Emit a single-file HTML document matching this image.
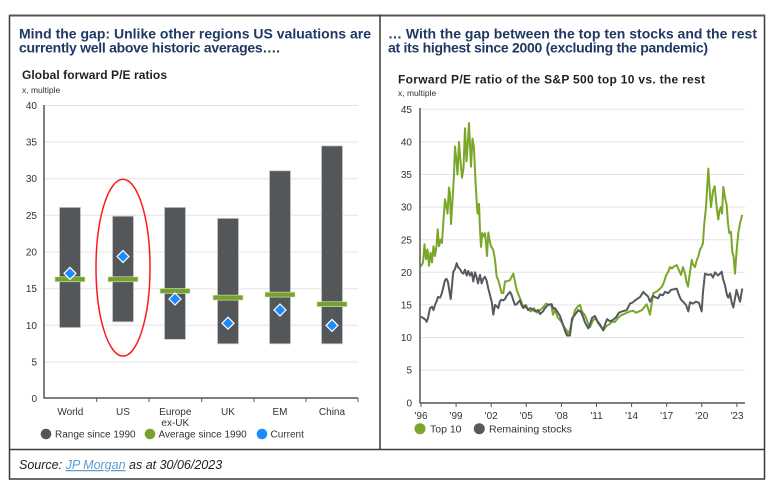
<!DOCTYPE html>
<html><head><meta charset="utf-8"><style>
html,body{margin:0;padding:0;background:#fff;}
svg{display:block;font-family:"Liberation Sans",Arial,sans-serif;}
</style></head><body>
<svg width="770" height="489" viewBox="0 0 770 489" xmlns="http://www.w3.org/2000/svg">
<rect width="770" height="489" fill="#fff"/>
<!-- frame -->
<rect x="9.5" y="15.5" width="755" height="463.5" fill="none" stroke="#3a3a3a" stroke-width="1.5"/>
<line x1="9" y1="15.5" x2="765" y2="15.5" stroke="#555" stroke-width="2"/>
<line x1="380" y1="15" x2="380" y2="449" stroke="#3a3a3a" stroke-width="1.5"/>
<line x1="9" y1="449.5" x2="765" y2="449.5" stroke="#3a3a3a" stroke-width="1.5"/>

<!-- titles -->
<g fill="#1f3864" font-weight="bold" font-size="14">
<text x="19" y="38.5" textLength="352" lengthAdjust="spacing">Mind the gap: Unlike other regions US valuations are</text>
<text x="19" y="52.5" textLength="261" lengthAdjust="spacing">currently well above historic averages….</text>
<text x="388" y="38.5" textLength="369" lengthAdjust="spacing">… With the gap between the top ten stocks and the rest</text>
<text x="388" y="52.5" textLength="320" lengthAdjust="spacing">at its highest since 2000 (excluding the pandemic)</text>
</g>

<!-- LEFT CHART -->
<text x="22" y="79" font-size="12" font-weight="bold" fill="#222" textLength="145" lengthAdjust="spacing">Global forward P/E ratios</text>
<text x="22" y="93" font-size="8.5" fill="#333">x, multiple</text>
<g stroke="#e4e4e4" stroke-width="1">
<line x1="44" y1="105.5" x2="358" y2="105.5"/>
<line x1="44" y1="142" x2="358" y2="142"/>
<line x1="44" y1="178.7" x2="358" y2="178.7"/>
<line x1="44" y1="215.3" x2="358" y2="215.3"/>
<line x1="44" y1="252" x2="358" y2="252"/>
<line x1="44" y1="288.7" x2="358" y2="288.7"/>
<line x1="44" y1="325.3" x2="358" y2="325.3"/>
<line x1="44" y1="362" x2="358" y2="362"/>
</g>
<g font-size="10" fill="#333" text-anchor="end">
<text x="37" y="109">40</text><text x="37" y="145.5">35</text><text x="37" y="182">30</text>
<text x="37" y="219">25</text><text x="37" y="255.5">20</text><text x="37" y="292">15</text>
<text x="37" y="329">10</text><text x="37" y="365.5">5</text><text x="37" y="402">0</text>
</g>
<!-- bars -->
<g fill="#54575a" stroke="#c8c8c8" stroke-width="0.8">
<rect x="59.5" y="207.4" width="21" height="120.2"/>
<rect x="112.5" y="216.2" width="21" height="105.6"/>
<rect x="164.5" y="207.4" width="21" height="132"/>
<rect x="217.5" y="218.4" width="21" height="125.4"/>
<rect x="269.5" y="170.8" width="21" height="173"/>
<rect x="321.5" y="145.9" width="21" height="197.9"/>
</g>
<!-- averages -->
<g fill="#78a22f" stroke="#d9e7c0" stroke-width="0.6">
<rect x="55" y="276.8" width="30" height="5"/>
<rect x="108" y="276.8" width="30" height="5"/>
<rect x="160" y="288.5" width="30" height="5"/>
<rect x="213" y="295.1" width="30" height="5"/>
<rect x="265" y="292.1" width="30" height="5"/>
<rect x="317" y="301.7" width="30" height="5"/>
</g>
<!-- current diamonds -->
<g fill="#1a8cff" stroke="#fff" stroke-width="1.2">
<path d="M70,267.4 L76,273.4 L70,279.4 L64,273.4Z"/>
<path d="M123,250.5 L129,256.5 L123,262.5 L117,256.5Z"/>
<path d="M175,293 L181,299 L175,305 L169,299Z"/>
<path d="M228,317.2 L234,323.2 L228,329.2 L222,323.2Z"/>
<path d="M280,304 L286,310 L280,316 L274,310Z"/>
<path d="M332,319.4 L338,325.4 L332,331.4 L326,325.4Z"/>
</g>
<!-- red ellipse -->
<ellipse cx="123" cy="267.7" rx="27" ry="88.4" fill="none" stroke="#ff1a1a" stroke-width="1.5"/>
<!-- axes -->
<line x1="44" y1="105" x2="44" y2="398.5" stroke="#555" stroke-width="1.5"/>
<line x1="44" y1="398" x2="358" y2="398" stroke="#555" stroke-width="1.5"/>
<g stroke="#555" stroke-width="1">
<line x1="96.7" y1="398" x2="96.7" y2="402"/><line x1="149" y1="398" x2="149" y2="402"/>
<line x1="201.7" y1="398" x2="201.7" y2="402"/><line x1="254" y1="398" x2="254" y2="402"/>
<line x1="306" y1="398" x2="306" y2="402"/><line x1="358" y1="398" x2="358" y2="402"/>
</g>
<g font-size="10" fill="#333" text-anchor="middle">
<text x="70.3" y="415">World</text><text x="123" y="415">US</text>
<text x="175.3" y="415">Europe</text><text x="175.3" y="426">ex-UK</text>
<text x="228" y="415">UK</text><text x="280" y="415">EM</text><text x="332" y="415">China</text>
</g>
<g font-size="10" fill="#333">
<circle cx="46" cy="434" r="5.3" fill="#54575a"/><text x="55" y="437.5">Range since 1990</text>
<circle cx="150" cy="434" r="5.3" fill="#78a22f"/><text x="158.5" y="437.5">Average since 1990</text>
<circle cx="262" cy="434" r="5.3" fill="#1a8cff"/><text x="270.5" y="437.5">Current</text>
</g>

<!-- RIGHT CHART -->
<text x="398" y="83.3" font-size="12" font-weight="bold" fill="#222" textLength="307" lengthAdjust="spacing">Forward P/E ratio of the S&amp;P 500 top 10 vs. the rest</text>
<text x="398" y="96" font-size="8.5" fill="#333">x, multiple</text>
<g stroke="#e4e4e4" stroke-width="1">
<line x1="420" y1="109.3" x2="745" y2="109.3"/>
<line x1="420" y1="141.9" x2="745" y2="141.9"/>
<line x1="420" y1="174.5" x2="745" y2="174.5"/>
<line x1="420" y1="207.1" x2="745" y2="207.1"/>
<line x1="420" y1="239.7" x2="745" y2="239.7"/>
<line x1="420" y1="272.3" x2="745" y2="272.3"/>
<line x1="420" y1="304.9" x2="745" y2="304.9"/>
<line x1="420" y1="337.5" x2="745" y2="337.5"/>
<line x1="420" y1="370.1" x2="745" y2="370.1"/>
</g>
<g font-size="10" fill="#333" text-anchor="end">
<text x="412" y="113">45</text><text x="412" y="145.5">40</text><text x="412" y="178">35</text>
<text x="412" y="210.7">30</text><text x="412" y="243.3">25</text><text x="412" y="276">20</text>
<text x="412" y="308.5">15</text><text x="412" y="341">10</text><text x="412" y="373.7">5</text>
<text x="412" y="406.3">0</text>
</g>
<g transform="translate(0,402.7) scale(1,-6.52)" fill="none" stroke-linejoin="round">
<polyline vector-effect="non-scaling-stroke" stroke="#7aa62a" stroke-width="2" points="421,20.9 423,21.5 424.5,24.3 426,22 427.5,23.5 429,21 430.5,23 432,21.5 433.5,24 435,22.5 436.5,24 437.7,26.6 439,24 440.5,25 442,24.5 443.5,28 445,31.2 446.5,30 447.5,29 449,33 450,32 451,27.4 452.5,31 454,35 455,39.3 456.5,37 457.5,35 459,40 460.5,37 462,34.5 463.5,36 465,42.1 466.5,37 467.5,39 469,42.9 470.5,38 471,36.2 472.5,40.5 474,39 475.5,34 477,30 477.7,29 479,30.5 480,26.5 481,23.9 482.3,26 484,25.5 485,26 486,24.5 487,22.5 488.3,26.1 489.5,25 491,24 493.3,23.4 495,21.9 496.7,19.3 498.3,18.8 500,17.8 501.7,16.8 503.3,16.8 505,18.6 506.7,18.6 510,18.8 513.3,19.8 516.7,17.3 520,16 522,15.2 524,14.7 526,15 528,14.3 531,14 534,14.5 537,13.8 540,14.2 543,14.6 546,15.2 549,15 551,15.1 553,13.5 555,14.2 558,13 561,12.5 564,11.6 566.7,11.1 568,10.6 570,11.2 572,12.5 575,14.2 578,14.8 580,15 582,14 585,13.4 588,12.2 590,11.6 593,12.6 596,13 598,12.2 600,11.8 603.3,11.1 606,11.7 609,12 612,12.4 615,12.4 618,13 621,13.4 624,13.6 627,13.8 630,14 633,14.1 636,13.8 639,14 642,14.2 645,14.8 646.7,15.1 648,14.5 650,13.5 651.5,15 653.3,16.8 656,17 658,17.2 660,17.5 662,17.8 664,18.5 666,19.5 668.3,20.1 670,20.8 672,20.6 674,20.9 676.7,21.1 679,20.3 681,19.6 683,20.8 685,19.8 686.5,18.5 688,17.8 689.5,19.5 691.7,21.9 693,21.2 695,20.8 697,22 698.3,22.4 700,23.5 701.7,23.9 703,24.5 704,27 706,30 708.3,35.9 710,32 711,30 713,32.5 714.7,33.2 716,31 717,29.6 718.3,28.1 719.5,29.5 721,30 722,29 723.3,33.1 725,31.5 726.7,30.3 728,27.5 729.3,26 731,26.2 732.3,23.1 733.5,22.5 735,19.8 736,22 737,24 738.3,26 740,27.5 742.3,28.8"/>
<polyline vector-effect="non-scaling-stroke" stroke="#555a5f" stroke-width="2" points="421,13.2 423,13 425,12.8 426.7,12.4 428,13 430,14.5 432,14.7 433.5,14.2 435,15 436.7,15.6 438,16.2 440,16.1 441.7,16.7 443,17.5 445,18.8 446.5,19 448,18.5 450,16.5 450.7,15.9 452,18 453.3,20.1 455,20.5 456.7,21.4 458,20.8 460,20.5 461.7,20 463.3,19.8 465,20.4 466.7,19.5 468.3,20.2 470,19.5 471.7,20 473.3,18.6 475,20 476.7,19.2 478,18.3 480,19.6 481.7,18.3 483.3,19 485,19.3 486.7,18.7 488.3,17.5 490,16.5 491.7,15.5 493.3,13.5 495,15 496.7,14.8 498.3,14.5 500,15.6 501.7,15.8 503.3,15.7 505,15.9 506.7,16.4 508.3,16.7 510,17 511.7,16.5 513.3,15.7 515,15 516.7,15.1 518.3,15.4 520,15.7 521.7,14.9 523.3,14.5 525,14.9 526.7,14.5 528.3,14.2 530,14.5 533,14.3 535,14 538.3,14.2 540,13.6 543,14 545,14.5 548,15 551.7,15.1 553.3,14.4 555,14.5 558,13.8 560,13.3 563,12 565,11 567,10.3 570,10.3 572,12.9 575,13.5 578.3,14.2 581,13.9 583,13.2 585,12.3 588.3,11.4 590,12 592,13 595,13.3 597,12.6 600,12 603.3,11.1 605,12 607,12.8 610,12.5 613,12.7 616,13.1 619,13.8 622,14 626.7,14.2 630,15.2 633,15.4 636,15.8 640,16.2 643.3,17 645,16.7 648,16.3 650,15.5 653,16.4 655,16.2 658,16 660,16.6 663,16.5 665,17 668.3,16.8 671,17.3 674,17.4 676.7,17.5 679,16.5 681,15.8 683,15.5 686,15 688.3,14 690,15.4 693,15.2 696,15.5 699,15.3 701.7,14 703,17 705,19.8 708,19.6 711,19.7 713,19.2 715,20 718,19.5 720,19.8 721.7,20.1 723,19 725,18 727,16.5 728.3,16.1 730,16.8 731.5,15.5 733.3,14.6 735,16 736.5,17.3 738,16.5 740,15.5 742.3,17.5"/>
</g>
<line x1="420" y1="108" x2="420" y2="403.5" stroke="#555" stroke-width="1.5"/>
<line x1="420" y1="403" x2="745" y2="403" stroke="#555" stroke-width="1.5"/>
<g stroke="#555" stroke-width="1">
<line x1="421" y1="403" x2="421" y2="407"/><line x1="456.1" y1="403" x2="456.1" y2="407"/>
<line x1="491.2" y1="403" x2="491.2" y2="407"/><line x1="526.3" y1="403" x2="526.3" y2="407"/>
<line x1="561.4" y1="403" x2="561.4" y2="407"/><line x1="596.5" y1="403" x2="596.5" y2="407"/>
<line x1="631.6" y1="403" x2="631.6" y2="407"/><line x1="666.7" y1="403" x2="666.7" y2="407"/>
<line x1="701.8" y1="403" x2="701.8" y2="407"/><line x1="736.9" y1="403" x2="736.9" y2="407"/>
</g>
<g font-size="10" fill="#333" text-anchor="middle">
<text x="421" y="419">'96</text><text x="456.1" y="419">'99</text><text x="491.2" y="419">'02</text>
<text x="526.3" y="419">'05</text><text x="561.4" y="419">'08</text><text x="596.5" y="419">'11</text>
<text x="631.6" y="419">'14</text><text x="666.7" y="419">'17</text><text x="701.8" y="419">'20</text>
<text x="736.9" y="419">'23</text>
</g>
<g font-size="10.5" fill="#333">
<circle cx="420" cy="428.7" r="5.5" fill="#7aa62a"/><text x="430" y="432.5">Top 10</text>
<circle cx="479.3" cy="428.7" r="5.5" fill="#555a5f"/><text x="489" y="432.5">Remaining stocks</text>
</g>

<!-- source -->
<text x="19" y="469" font-size="12.5" font-style="italic" fill="#222">Source: <tspan fill="#5b9bd5" text-decoration="underline">JP Morgan</tspan> as at 30/06/2023</text>
</svg>
</body></html>
